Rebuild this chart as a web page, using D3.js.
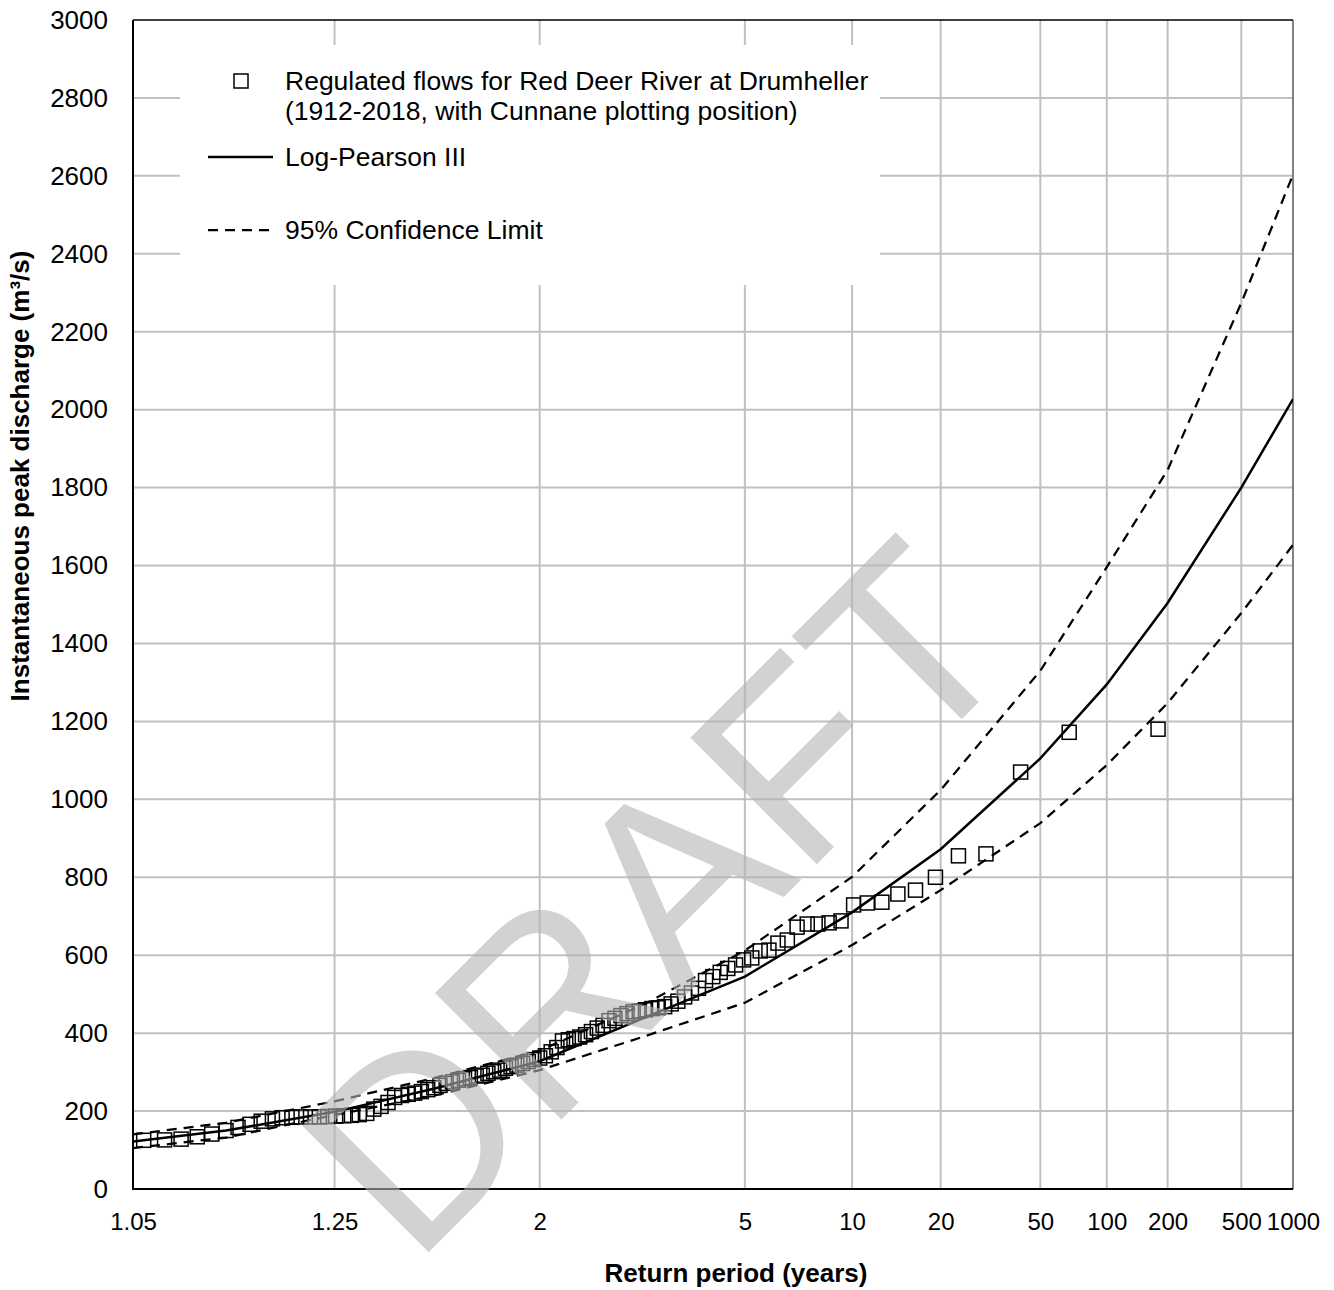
<!DOCTYPE html>
<html>
<head>
<meta charset="utf-8">
<script src="https://cdn.jsdelivr.net/npm/d3@7"></script>
<style>
  html, body { margin: 0; padding: 0; background: #ffffff; }
  svg { display: block; font-family: "Liberation Sans", Arial, Helvetica, sans-serif; }
</style>
</head>
<body>
<svg id="chart" width="1334" height="1290"></svg>
<script>
// Return-period axis labels
const tickPeriods = [1.05, 1.25, 2, 5, 10, 20, 50, 100, 200, 500, 1000];
const tickLabels = ["1.05", "1.25", "2", "5", "10", "20", "50", "100", "200", "500", "1000"];

// Discharge axis ticks (m3/s)
const flowTicks = [0, 200, 400, 600, 800, 1000, 1200, 1400, 1600, 1800, 2000, 2200, 2400, 2600, 2800, 3000];

// Ranked annual peaks: return period (Cunnane position) and discharge
const obsPeriods = [
  178.67, 67.00, 41.23, 29.78, 23.30, 19.14, 16.24, 14.11, 12.47, 11.17,
  10.11, 9.241, 8.508, 7.882, 7.342, 6.872, 6.458, 6.091, 5.763, 5.469,
  5.204, 4.963, 4.743, 4.542, 4.358, 4.188, 4.030, 3.884, 3.748, 3.622,
  3.503, 3.392, 3.288, 3.190, 3.098, 3.011, 2.929, 2.851, 2.777, 2.707,
  2.640, 2.577, 2.516, 2.459, 2.404, 2.351, 2.300, 2.252, 2.206, 2.161,
  2.119, 2.078, 2.038, 2.000, 1.963, 1.928, 1.894, 1.861, 1.829, 1.799,
  1.769, 1.740, 1.712, 1.686, 1.659, 1.634, 1.610, 1.586, 1.563, 1.540,
  1.518, 1.497, 1.477, 1.457, 1.437, 1.418, 1.400, 1.381, 1.364, 1.347,
  1.330, 1.314, 1.298, 1.282, 1.267, 1.252, 1.238, 1.224, 1.210, 1.196,
  1.183, 1.170, 1.158, 1.145, 1.133, 1.121, 1.110, 1.098, 1.087, 1.076,
  1.066, 1.055
];
const obsFlows = [
  1180, 1172, 1070, 860, 855, 800, 767, 757, 736, 734,
  729, 688, 683, 680, 680, 672, 639, 631, 613, 611,
  593, 588, 575, 566, 556, 545, 535, 515, 503, 493,
  482, 475, 468, 465, 463, 460, 457, 455, 450, 445,
  438, 432, 420, 413, 404, 396, 390, 386, 383, 380,
  363, 352, 342, 336, 332, 327, 322, 318, 314, 310,
  305, 301, 297, 292, 290, 286, 283, 279, 275, 271,
  266, 260, 255, 250, 246, 243, 240, 235, 222, 212,
  205, 194, 191, 189, 188, 187, 186, 185, 185, 185,
  184, 183, 180, 174, 166, 158, 150, 141, 134, 128,
  126, 125
];

// Fitted Log-Pearson III quantiles and 95% confidence limits
const curvePeriods = [1.05, 1.11, 1.25, 1.5, 2, 3, 5, 10, 20, 50, 100, 200, 500, 1000];
const lp3Flows   = [122, 150, 198, 258, 328, 440, 545, 710, 872, 1105, 1295, 1504, 1800, 2027];
const upperFlows = [140, 170, 225, 285, 355, 475, 612, 801, 1024, 1330, 1596, 1845, 2274, 2603];
const lowerFlows = [105, 132, 190, 240, 305, 392, 478, 626, 767, 939, 1088, 1247, 1478, 1653];

// Inverse standard normal CDF (Acklam's rational approximation)
function probit(p) {
  const a = [-3.969683028665376e+01, 2.209460984245205e+02, -2.759285104469687e+02,
             1.383577518672690e+02, -3.066479806614716e+01, 2.506628277459239e+00];
  const b = [-5.447609879822406e+01, 1.615858368580409e+02, -1.556989798598866e+02,
             6.680131188771972e+01, -1.328068155288572e+01];
  const c = [-7.784894002430293e-03, -3.223964580411365e-01, -2.400758277161838e+00,
             -2.549732539343734e+00, 4.374664141464968e+00, 2.938163982698783e+00];
  const d = [7.784695709041462e-03, 3.224671290700398e-01, 2.445134137142996e+00,
             3.754408661907416e+00];
  const pl = 0.02425, ph = 1 - pl;
  let q, r;
  if (p < pl) {
    q = Math.sqrt(-2 * Math.log(p));
    return (((((c[0]*q + c[1])*q + c[2])*q + c[3])*q + c[4])*q + c[5]) /
           ((((d[0]*q + d[1])*q + d[2])*q + d[3])*q + 1);
  }
  if (p <= ph) {
    q = p - 0.5; r = q * q;
    return (((((a[0]*r + a[1])*r + a[2])*r + a[3])*r + a[4])*r + a[5]) * q /
           (((((b[0]*r + b[1])*r + b[2])*r + b[3])*r + b[4])*r + 1);
  }
  q = Math.sqrt(-2 * Math.log(1 - p));
  return -(((((c[0]*q + c[1])*q + c[2])*q + c[3])*q + c[4])*q + c[5]) /
          ((((d[0]*q + d[1])*q + d[2])*q + d[3])*q + 1);
}
// Normal-probability position of a return period
const zOf = T => probit(1 - 1 / T);

const plotLeft = 133, plotRight = 1293, plotTop = 20, plotBottom = 1189;

const xz = d3.scaleLinear().domain([zOf(1.05), zOf(1000)]).range([plotLeft, plotRight]);
const x = T => xz(zOf(T));
const y = d3.scaleLinear().domain([0, 3000]).range([plotBottom, plotTop]);

const svg = d3.select("#chart");

svg.append("defs").append("clipPath").attr("id", "plot-clip")
  .append("rect").attr("x", plotLeft).attr("y", plotTop)
  .attr("width", plotRight - plotLeft).attr("height", plotBottom - plotTop);

// Grid
const grid = svg.append("g").attr("stroke", "#c0c0c0").attr("stroke-width", 2);
grid.selectAll("line.h").data(flowTicks.filter(v => v > 0 && v < 3000)).join("line")
  .attr("class", "h")
  .attr("x1", plotLeft).attr("x2", plotRight)
  .attr("y1", d => y(d)).attr("y2", d => y(d));
grid.selectAll("line.v").data(tickPeriods.slice(1, -1)).join("line")
  .attr("class", "v")
  .attr("x1", d => x(d)).attr("x2", d => x(d))
  .attr("y1", plotTop).attr("y2", plotBottom);

// Plot frame
svg.append("line").attr("x1", plotRight).attr("x2", plotRight).attr("y1", plotTop).attr("y2", plotBottom)
  .attr("stroke", "#595959").attr("stroke-width", 1.5);
svg.append("line").attr("x1", plotLeft).attr("x2", plotRight).attr("y1", plotTop).attr("y2", plotTop)
  .attr("stroke", "#000").attr("stroke-width", 1.5);

// Axes
const yAxis = d3.axisLeft(y).tickValues(flowTicks).tickFormat(d3.format("d"))
  .tickSize(0).tickPadding(25);
const gy = svg.append("g").attr("transform", `translate(${plotLeft},0)`).call(yAxis);
gy.select(".domain").remove();
gy.selectAll("text").attr("font-size", 26).attr("fill", "#000")
  .attr("font-family", "'Liberation Sans', Arial, sans-serif");

const xAxis = d3.axisBottom(xz).tickValues(tickPeriods.map(zOf))
  .tickFormat((d, i) => tickLabels[i]).tickSize(0).tickPadding(24);
const gx = svg.append("g").attr("transform", `translate(0,${plotBottom})`).call(xAxis);
gx.select(".domain").remove();
gx.selectAll("text").attr("font-size", 24).attr("fill", "#000")
  .attr("font-family", "'Liberation Sans', Arial, sans-serif");

svg.append("line").attr("x1", plotLeft).attr("x2", plotLeft).attr("y1", plotTop).attr("y2", plotBottom + 1)
  .attr("stroke", "#000").attr("stroke-width", 2);
svg.append("line").attr("x1", plotLeft - 1).attr("x2", plotRight).attr("y1", plotBottom).attr("y2", plotBottom)
  .attr("stroke", "#000").attr("stroke-width", 2);

// Axis titles
svg.append("text")
  .attr("x", 736).attr("y", 1282)
  .attr("text-anchor", "middle").attr("font-size", 26).attr("font-weight", "bold")
  .text("Return period (years)");
svg.append("text")
  .attr("transform", "translate(29,476) rotate(-90)")
  .attr("text-anchor", "middle").attr("font-size", 26).attr("font-weight", "bold")
  .text("Instantaneous peak discharge (m³/s)");

// Curves
const plot = svg.append("g").attr("clip-path", "url(#plot-clip)");
const line = d3.line().x(d => x(d[0])).y(d => y(d[1]));
const pairs = vals => curvePeriods.map((T, i) => [T, vals[i]]);

plot.append("path").datum(pairs(upperFlows)).attr("d", line)
  .attr("fill", "none").attr("stroke", "#000").attr("stroke-width", 2.25)
  .attr("stroke-dasharray", "10,7");
plot.append("path").datum(pairs(lowerFlows)).attr("d", line)
  .attr("fill", "none").attr("stroke", "#000").attr("stroke-width", 2.25)
  .attr("stroke-dasharray", "10,7");
plot.append("path").datum(pairs(lp3Flows)).attr("d", line)
  .attr("fill", "none").attr("stroke", "#000").attr("stroke-width", 2.5);

// Observed peaks
const sq = 14;
plot.selectAll("rect.obs").data(obsPeriods.map((T, i) => [T, obsFlows[i]])).join("rect")
  .attr("class", "obs")
  .attr("x", d => x(d[0]) - sq / 2).attr("y", d => y(d[1]) - sq / 2)
  .attr("width", sq).attr("height", sq)
  .attr("fill", "none").attr("stroke", "#000").attr("stroke-width", 1.5);

// Legend
const lg = svg.append("g");
lg.append("rect").attr("x", 180).attr("y", 45).attr("width", 700).attr("height", 240).attr("fill", "#fff");
lg.append("rect").attr("x", 241 - 7).attr("y", 81 - 7).attr("width", 14).attr("height", 14)
  .attr("fill", "none").attr("stroke", "#000").attr("stroke-width", 1.5);
const legendText = [
  ["Regulated flows for Red Deer River at Drumheller", 81],
  ["(1912-2018, with Cunnane plotting position)", 111],
  ["Log-Pearson III", 157],
  ["95% Confidence Limit", 230]
];
lg.selectAll("text").data(legendText).join("text")
  .attr("x", 285).attr("y", d => d[1]).attr("dy", "0.35em")
  .attr("font-size", 26.5).text(d => d[0]);
lg.append("line").attr("x1", 208).attr("x2", 273).attr("y1", 157).attr("y2", 157)
  .attr("stroke", "#000").attr("stroke-width", 2.5);
lg.append("line").attr("x1", 208).attr("x2", 273).attr("y1", 230).attr("y2", 230)
  .attr("stroke", "#000").attr("stroke-width", 2.25).attr("stroke-dasharray", "10,7");

// Watermark
svg.append("text")
  .attr("transform", "translate(720,961) rotate(-45)")
  .attr("text-anchor", "middle")
  .attr("font-size", 260)
  .attr("fill", "rgb(180,180,180)").attr("fill-opacity", 0.6)
  .text("DRAFT");
</script>
</body>
</html>
